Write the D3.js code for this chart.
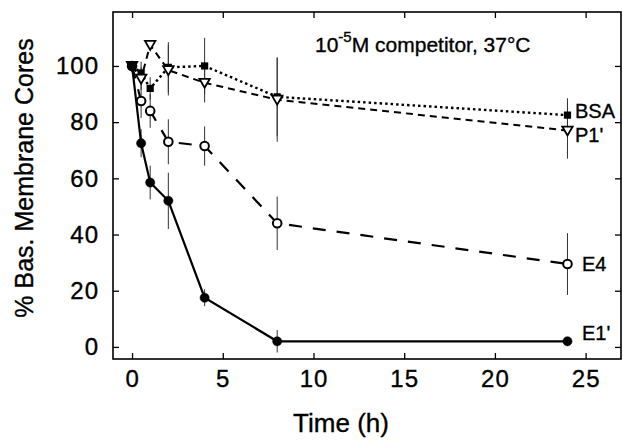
<!DOCTYPE html>
<html>
<head>
<meta charset="utf-8">
<script src="https://cdn.jsdelivr.net/npm/d3@7"></script>
<style>
  body { margin: 0; background: #fff; }
  svg { font-family: "Liberation Sans", Arial, Helvetica, sans-serif; }
  text { stroke: #000; stroke-width: 0.35px; }
</style>
</head>
<body>
<div id="chart"></div>
<script>
// time course of basement membrane cores with 10^-5 M competitors

const times = [0, 0.5, 1, 2, 4, 8, 24];
const e1 = [100, 72.5, 58.5, 52, 17.5, 2, 2];
const e1Err = [0, 5, 6, 10, 3, 4, 0];
const e4 = [100, 87.5, 84, 73, 71.5, 44, 29.5];
const e4Err = [0, 6, 6, 8, 7, 9.5, 11];
const p1 = [100, 95.5, 107.5, 98.5, 94, 88, 77];
const p1Err = [0, 4, 0, 9, 7, 15, 10];
const bsa = [100, 97.5, 92, 99.5, 100, 89, 82.5];
const bsaErr = [0, 4, 4, 9, 10, 14, 6];

const xTicks = [0, 5, 10, 15, 20, 25];
const yTicks = [0, 20, 40, 60, 80, 100];

const W = 623, H = 442;
const L = 113, R = 621, T = 12, B = 359;

const x = d3.scaleLinear().domain([-1.05, 26.95]).range([L, R]);
const y = d3.scaleLinear().domain([-4.3, 119.2]).range([B, T]);

const svg = d3.select('#chart').append('svg')
  .attr('width', W)
  .attr('height', H);

// axes, ticks pointing inwards
svg.append('g')
  .attr('transform', `translate(0,${B})`)
  .call(d3.axisBottom(x).tickValues(xTicks).tickSizeInner(-6).tickSizeOuter(0).tickPadding(11))
  .call(g => g.select('.domain').remove())
  .call(g => g.selectAll('text').attr('font-size', 24).attr('letter-spacing', 1));

svg.append('g')
  .attr('transform', `translate(0,${T})`)
  .call(d3.axisTop(x).tickValues(xTicks).tickSizeInner(-6).tickSizeOuter(0).tickFormat(''))
  .call(g => g.select('.domain').remove());

svg.append('g')
  .attr('transform', `translate(${L},0)`)
  .call(d3.axisLeft(y).tickValues(yTicks).tickSizeInner(-6).tickSizeOuter(0).tickPadding(14))
  .call(g => g.select('.domain').remove())
  .call(g => g.selectAll('text').attr('font-size', 24).attr('letter-spacing', 1));

svg.append('g')
  .attr('transform', `translate(${R},0)`)
  .call(d3.axisRight(y).tickValues(yTicks).tickSizeInner(-6).tickSizeOuter(0).tickFormat(''))
  .call(g => g.select('.domain').remove());

svg.selectAll('.tick line').attr('stroke', '#000').attr('stroke-width', 1.3);

svg.append('rect')
  .attr('x', L).attr('y', T)
  .attr('width', R - L).attr('height', B - T)
  .attr('fill', 'none')
  .attr('stroke', '#000')
  .attr('stroke-width', 1.6);

// axis titles
svg.append('text')
  .attr('x', 341).attr('y', 432)
  .attr('text-anchor', 'middle')
  .attr('font-size', 26)
  .text('Time (h)');

svg.append('text')
  .attr('transform', 'translate(33,178) rotate(-90)')
  .attr('text-anchor', 'middle')
  .attr('font-size', 25)
  .text('% Bas. Membrane Cores');

// annotation
const note = svg.append('text')
  .attr('x', 315).attr('y', 52)
  .attr('font-size', 21);
note.append('tspan').text('10');
note.append('tspan').attr('dy', -10).attr('font-size', 15).text('-5');
note.append('tspan').attr('dy', 10).text('M competitor, 37°C');

const series = [
  { name: 'BSA', vals: bsa, err: bsaErr, dash: '2.5,3', width: 2.4, marker: 'square', lx: 575, ly: 118 },
  { name: "P1'", vals: p1, err: p1Err, dash: '7,5', width: 2, marker: 'tri', lx: 575, ly: 142 },
  { name: 'E4', vals: e4, err: e4Err, dash: '13,11', width: 2.2, marker: 'open', lx: 582, ly: 271 },
  { name: "E1'", vals: e1, err: e1Err, dash: null, width: 2.2, marker: 'filled', lx: 582, ly: 340 },
];

const line = d3.line().x(d => x(d.t)).y(d => y(d.v));

// error bars first
series.forEach(s => {
  const pts = times.map((t, i) => ({ t, v: s.vals[i], e: s.err[i] }));
  svg.append('g').selectAll('line')
    .data(pts.filter(d => d.e > 0))
    .enter()
    .append('line')
    .attr('x1', d => x(d.t)).attr('x2', d => x(d.t))
    .attr('y1', d => y(d.v - d.e)).attr('y2', d => y(d.v + d.e))
    .attr('stroke', '#333')
    .attr('stroke-width', 1);
});

series.forEach(s => {
  const pts = times.map((t, i) => ({ t, v: s.vals[i] }));
  svg.append('path')
    .datum(pts)
    .attr('d', line)
    .attr('fill', 'none')
    .attr('stroke', '#000')
    .attr('stroke-width', s.width)
    .attr('stroke-dasharray', s.dash);

  const g = svg.append('g');
  if (s.marker === 'filled' || s.marker === 'open') {
    g.selectAll('circle').data(pts).enter().append('circle')
      .attr('cx', d => x(d.t)).attr('cy', d => y(d.v))
      .attr('r', s.marker === 'filled' ? 4.6 : 4.3)
      .attr('fill', s.marker === 'filled' ? '#000' : '#fff')
      .attr('stroke', '#000')
      .attr('stroke-width', s.marker === 'filled' ? 0.5 : 2);
  } else if (s.marker === 'square') {
    g.selectAll('rect').data(pts).enter().append('rect')
      .attr('x', d => x(d.t) - 3.6).attr('y', d => y(d.v) - 3.6)
      .attr('width', 7.2).attr('height', 7.2)
      .attr('fill', '#000');
  } else {
    g.selectAll('path').data(pts).enter().append('path')
      .attr('d', d => {
        const cx = x(d.t), cy = y(d.v);
        return `M${cx - 5.2},${cy - 4} L${cx + 5.2},${cy - 4} L${cx},${cy + 5} Z`;
      })
      .attr('fill', '#fff')
      .attr('stroke', '#000')
      .attr('stroke-width', 1.8);
  }

  svg.append('text')
    .attr('x', s.lx).attr('y', s.ly)
    .attr('font-size', 20)
    .text(s.name);
});
</script>
</body>
</html>
